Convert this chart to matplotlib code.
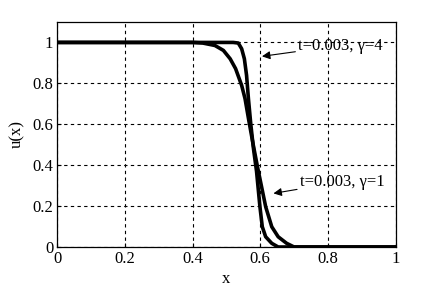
import matplotlib
matplotlib.use("Agg")
import matplotlib.pyplot as plt

# veri
x_g4 = [0.0, 0.52, 0.535, 0.545, 0.553, 0.5595, 0.565, 0.572, 0.580, 0.589,
        0.599, 0.606, 0.616, 0.634, 0.653, 1.0]
u_g4 = [1.0, 1.0, 0.997, 0.969, 0.92, 0.839, 0.725, 0.60, 0.48, 0.37,
        0.197, 0.099, 0.05, 0.018, 0.0, 0.0]

x_g1 = [0.0, 0.40, 0.43, 0.466, 0.491, 0.511, 0.527, 0.545, 0.555, 0.566,
        0.578, 0.592, 0.616, 0.634, 0.653, 0.678, 0.70, 1.0]
u_g1 = [1.0, 1.0, 0.997, 0.985, 0.961, 0.92, 0.872, 0.79, 0.725, 0.62,
        0.51, 0.39, 0.197, 0.099, 0.05, 0.018, 0.0, 0.0]

xticks = [0, 0.2, 0.4, 0.6, 0.8, 1]
xtick_labels = ["0", "0.2", "0.4", "0.6", "0.8", "1"]
yticks = [0, 0.2, 0.4, 0.6, 0.8, 1]
ytick_labels = ["0", "0.2", "0.4", "0.6", "0.8", "1"]

plt.rcParams["font.family"] = ["Liberation Serif", "DejaVu Serif"]

fig = plt.figure(figsize=(4.38, 2.93), dpi=100)
ax = fig.add_axes([0.131, 0.157, 0.772, 0.768])

ax.plot(x_g1, u_g1, color="k", lw=2.6, solid_joinstyle="round")
ax.plot(x_g4, u_g4, color="k", lw=2.6, solid_joinstyle="round")

ax.set_xlim(0, 1)
ax.set_ylim(0, 1.1)
ax.set_xticks(xticks)
ax.set_xticklabels(xtick_labels)
ax.set_yticks(yticks)
ax.set_yticklabels(ytick_labels)
ax.tick_params(direction="in", length=3, labelsize=12, colors="k", pad=3)
ax.grid(True, color="k", linestyle=(0, (3, 3)), linewidth=0.8)
for s in ax.spines.values():
    s.set_linewidth(0.9)

ax.set_xlabel("x", fontsize=12, labelpad=3)
ax.set_ylabel("u(x)", fontsize=12, labelpad=5)

# etiketler + oklar
ax.annotate("t=0.003, γ=4", xy=(0.605, 0.932), xytext=(0.712, 0.985),
            fontsize=12, va="center", ha="left",
            arrowprops=dict(arrowstyle="-|>", color="k", lw=0.8,
                            mutation_scale=12, shrinkA=0, shrinkB=0))
ax.annotate("t=0.003, γ=1", xy=(0.639, 0.262), xytext=(0.717, 0.319),
            fontsize=12, va="center", ha="left",
            arrowprops=dict(arrowstyle="-|>", color="k", lw=0.8,
                            mutation_scale=12, shrinkA=0, shrinkB=0))

fig.savefig("out.png", dpi=100)
